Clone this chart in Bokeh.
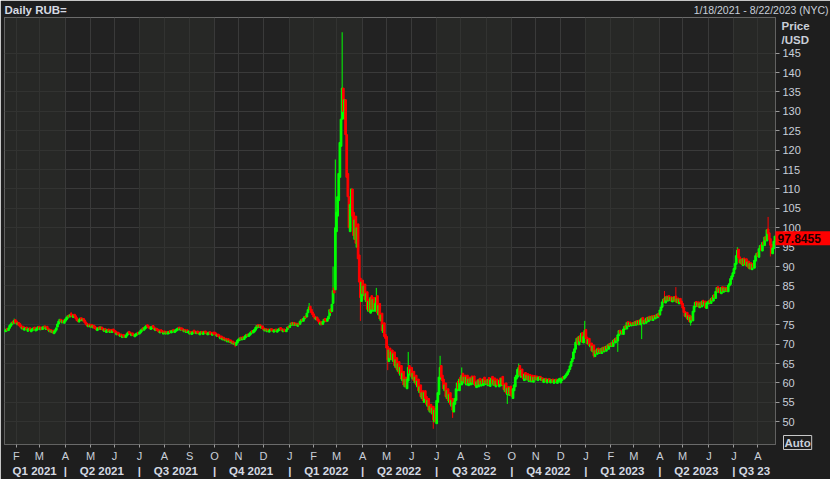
import pandas as pd
from bokeh.plotting import figure
from bokeh.models import (Range1d, LinearAxis, FixedTicker, ColumnDataSource,
                          Label, BoxAnnotation)
from bokeh.embed import file_html
from bokeh.resources import INLINE

# ---------------- data ----------------
START = "2021-01-18"
END = "2023-08-22"
LAST_PRICE_TEXT = "97.8455"
TITLE = "Daily RUB="
DATE_RANGE = "1/18/2021 - 8/22/2023 (NYC)"

# daily opens / closes per month (trading days)
o2021_01 = [73.2, 73.3, 74.1, 73.5, 74.1, 74.6, 75.0, 75.9, 75.4, 76.3]
c2021_01 = [73.7, 73.9, 73.6, 74.1, 74.8, 75.2, 75.6, 75.4, 76.1, 75.6]
o2021_02 = [76.0, 75.0, 75.6, 75.3, 74.9, 73.9, 74.6, 73.6, 73.8, 74.4,
            73.3, 73.6, 74.2, 73.2, 73.5, 73.7, 74.4, 73.4, 73.6, 73.9]
c2021_02 = [75.3, 75.5, 74.9, 74.6, 74.2, 74.4, 73.9, 74.1, 74.3, 73.7,
            73.9, 74.1, 73.5, 73.8, 74.0, 74.2, 73.7, 73.9, 74.2, 74.5]
o2021_03 = [74.6, 73.7, 74.4, 73.8, 74.0, 74.7, 73.8, 74.6, 74.1, 73.2,
            73.8, 73.0, 73.6, 72.7, 73.1, 73.6, 74.4, 75.2, 75.8, 76.4,
            75.5, 76.2, 75.4]
c2021_03 = [74.0, 74.3, 73.8, 74.4, 74.6, 74.1, 74.4, 74.0, 73.5, 73.7,
            73.2, 73.5, 72.9, 73.3, 73.7, 74.2, 75.2, 75.9, 76.4, 75.8,
            76.1, 75.6, 76.0]
o2021_04 = [75.9, 76.3, 76.7, 77.5, 77.0, 77.9, 77.6, 76.9, 77.7, 77.3,
            76.8, 76.4, 75.7, 76.1, 76.8, 76.0, 76.6, 76.2, 75.7, 75.3,
            74.5, 75.2]
c2021_04 = [76.5, 76.9, 77.3, 77.0, 77.6, 77.4, 77.0, 77.5, 77.2, 76.6,
            76.1, 75.8, 76.3, 76.7, 76.2, 76.5, 76.0, 75.5, 75.1, 74.7,
            75.0, 74.6]
o2021_05 = [74.4, 75.1, 74.2, 74.9, 74.6, 74.3, 73.5, 73.8, 74.5, 73.8,
            74.4, 74.1, 73.3, 74.0, 73.0, 73.2, 73.9, 73.0, 73.8, 73.0,
            73.9]
c2021_05 = [74.9, 74.5, 74.8, 74.2, 74.0, 73.7, 74.1, 74.3, 73.9, 74.4,
            73.8, 73.6, 73.9, 73.4, 73.6, 73.8, 73.3, 73.5, 73.2, 73.6,
            73.4]
o2021_06 = [73.6, 73.4, 72.4, 73.1, 72.9, 72.0, 72.6, 71.7, 72.5, 72.3,
            71.7, 72.1, 72.5, 73.3, 73.0, 72.2, 72.9, 72.6, 71.9, 72.2,
            72.4, 73.1]
c2021_06 = [73.1, 72.8, 72.9, 72.5, 72.3, 72.5, 72.0, 72.2, 71.9, 71.8,
            72.3, 72.7, 73.1, 72.8, 72.5, 72.7, 72.3, 72.1, 72.5, 72.7,
            72.9, 72.6]
o2021_07 = [72.6, 72.9, 73.3, 74.2, 73.6, 73.9, 74.2, 75.0, 74.7, 74.5,
            73.8, 74.0, 74.8, 74.4, 73.5, 74.1, 73.9, 73.7, 72.9, 73.7,
            73.5, 72.6]
c2021_07 = [73.1, 73.5, 73.9, 73.7, 74.2, 74.5, 74.8, 74.6, 74.2, 74.0,
            74.4, 74.6, 74.3, 73.8, 74.0, 73.6, 73.4, 73.1, 73.4, 73.2,
            73.0, 73.1]
o2021_08 = [73.4, 72.6, 73.3, 72.6, 72.8, 73.5, 72.9, 73.1, 73.8, 73.0,
            73.3, 73.5, 73.7, 74.4, 73.6, 74.2, 74.0, 73.2, 73.8, 73.0,
            73.7, 72.9]
c2021_08 = [72.9, 73.2, 72.8, 73.1, 73.3, 73.0, 73.4, 73.6, 73.3, 73.5,
            73.8, 74.0, 74.2, 73.9, 74.1, 73.7, 73.5, 73.7, 73.3, 73.5,
            73.2, 73.4]
o2021_09 = [72.6, 73.3, 72.5, 72.8, 73.6, 73.3, 72.7, 73.4, 73.2, 72.4,
            72.7, 73.3, 72.5, 72.8, 73.4, 73.1, 72.4, 72.6, 73.2, 73.0,
            72.3, 73.1]
c2021_09 = [73.1, 72.8, 73.0, 73.3, 73.1, 72.8, 73.2, 72.9, 72.7, 72.9,
            73.2, 72.8, 73.0, 73.3, 72.9, 72.6, 72.9, 73.1, 72.7, 72.5,
            72.8, 72.6]
o2021_10 = [73.1, 72.9, 72.0, 72.6, 72.4, 71.4, 72.1, 71.1, 71.8, 70.9,
            71.5, 70.6, 71.4, 70.5, 71.1, 70.2, 70.8, 69.9, 70.5, 69.7,
            70.3]
c2021_10 = [72.6, 72.3, 72.5, 72.0, 71.8, 71.9, 71.5, 71.6, 71.2, 71.3,
            70.9, 71.1, 70.8, 70.9, 70.5, 70.6, 70.1, 70.3, 69.8, 70.4,
            71.0]
o2021_11 = [70.8, 71.0, 71.8, 71.1, 71.9, 71.2, 71.6, 71.9, 72.6, 72.0,
            72.3, 72.6, 73.5, 72.9, 73.2, 73.6, 74.1, 75.0, 74.3, 75.0,
            74.1, 74.7]
c2021_11 = [71.3, 71.6, 71.2, 71.7, 71.4, 71.8, 72.2, 72.5, 72.1, 72.6,
            72.9, 73.2, 73.0, 73.5, 73.8, 74.3, 74.8, 74.5, 74.9, 74.4,
            74.6, 74.0]
o2021_12 = [74.2, 73.4, 74.0, 73.2, 73.9, 73.1, 73.4, 74.0, 73.8, 73.1,
            73.3, 73.9, 73.1, 73.4, 73.6, 74.3, 74.0, 73.2, 73.9, 73.8,
            73.2, 73.8, 74.6]
c2021_12 = [73.7, 73.9, 73.5, 73.8, 73.4, 73.6, 73.9, 73.5, 73.3, 73.6,
            73.8, 73.4, 73.6, 73.9, 74.1, 73.8, 73.5, 73.7, 73.4, 73.3,
            73.7, 74.4, 74.2]
o2022_01 = [74.3, 74.8, 75.6, 74.9, 75.6, 74.8, 75.4, 74.6, 75.4, 75.1,
            75.7, 76.5, 75.9, 76.5, 77.3, 77.0, 78.1, 78.9, 79.8, 79.0,
            78.3]
c2022_01 = [74.8, 75.4, 75.0, 75.5, 75.0, 75.3, 74.8, 75.2, 75.0, 75.9,
            76.3, 76.0, 76.6, 77.1, 76.8, 78.0, 78.9, 79.6, 78.9, 78.1,
            77.6]
o2022_02 = [77.8, 77.2, 76.3, 77.0, 76.5, 76.0, 75.0, 75.8, 75.1, 75.7,
            76.6, 76.3, 75.9, 76.5, 77.3, 79.1, 78.4, 80.5, 84.5, 84.0]
c2022_02 = [77.0, 76.6, 76.9, 76.2, 75.9, 75.3, 75.6, 75.0, 75.8, 76.4,
            76.1, 75.8, 76.6, 77.2, 78.9, 78.2, 80.3, 83.8, 83.2, 100.0]
o2022_03 = [99.0, 103.0, 107.0, 113.0, 121.0, 128.0, 136.0, 128.0, 133.0, 124.0,
            114.0, 108.0, 99.0, 105.0, 110.0, 104.0, 97.0, 103.0, 95.0, 101.0,
            93.0, 87.0, 81.0]
c2022_03 = [104.0, 108.0, 114.0, 122.0, 128.0, 136.0, 130.0, 133.0, 124.0, 113.0,
            108.0, 100.0, 106.0, 110.0, 103.0, 98.0, 102.0, 96.0, 100.0, 92.0,
            86.0, 82.0, 86.0]
o2022_04 = [86.5, 82.5, 85.5, 81.0, 83.5, 78.5, 81.5, 78.0, 82.5, 78.5,
            82.0, 78.5, 80.0, 82.5, 77.5, 80.5, 76.0, 78.0, 73.0, 75.5,
            72.5]
c2022_04 = [83.0, 85.0, 81.5, 83.0, 79.0, 81.0, 78.5, 82.0, 79.0, 81.5,
            79.0, 80.5, 82.0, 78.0, 80.0, 76.5, 77.5, 73.5, 75.0, 72.0,
            71.5]
o2022_05 = [72.0, 69.5, 65.5, 69.0, 66.0, 68.5, 65.5, 68.0, 64.0, 66.5,
            63.0, 65.5, 62.0, 64.5, 60.5, 63.0, 59.0, 61.5, 58.5, 60.5,
            64.5, 62.0]
c2022_05 = [69.0, 66.0, 68.5, 66.5, 68.0, 66.0, 67.5, 64.5, 66.0, 63.5,
            65.0, 62.5, 64.0, 61.0, 62.5, 59.5, 61.0, 59.0, 61.0, 64.0,
            62.5, 63.5]
o2022_06 = [64.0, 61.0, 63.0, 60.0, 62.0, 59.0, 61.0, 57.5, 59.5, 56.0,
            58.0, 55.0, 58.0, 56.5, 54.0, 56.0, 52.5, 54.5, 52.0, 54.0,
            50.0, 53.5]
c2022_06 = [61.5, 62.5, 60.5, 61.5, 59.5, 60.5, 58.0, 59.0, 56.5, 57.5,
            55.5, 57.5, 56.0, 54.5, 55.5, 53.0, 54.0, 52.5, 53.5, 50.5,
            53.0, 50.0]
o2022_07 = [49.5, 55.0, 57.0, 61.0, 64.5, 62.0, 61.0, 58.0, 60.0, 56.0,
            58.5, 55.0, 57.5, 54.0, 56.0, 52.5, 54.5, 55.5, 58.0, 60.5,
            58.0]
c2022_07 = [55.5, 57.5, 61.5, 64.0, 61.5, 60.5, 58.5, 59.5, 56.5, 58.0,
            55.5, 57.0, 54.5, 55.5, 53.0, 55.0, 56.0, 58.5, 60.0, 58.5,
            61.0]
o2022_08 = [61.5, 59.5, 62.5, 60.0, 62.0, 59.5, 62.0, 59.3, 61.5, 59.5,
            61.8, 59.7, 61.8, 60.2, 58.8, 60.8, 59.0, 61.2, 59.2, 61.0,
            59.3, 61.5, 59.6]
c2022_08 = [60.0, 62.0, 60.5, 61.5, 60.0, 61.5, 59.8, 61.0, 60.0, 61.2,
            60.2, 61.5, 59.8, 59.2, 60.3, 59.5, 60.8, 59.7, 60.5, 59.8,
            61.0, 60.0, 60.6]
o2022_09 = [60.8, 59.3, 61.4, 59.1, 60.2, 61.7, 59.4, 61.3, 59.0, 61.0,
            60.1, 59.0, 61.3, 59.3, 61.7, 59.8, 57.8, 60.0, 57.0, 59.1,
            56.8, 59.2]
c2022_09 = [59.8, 60.9, 59.6, 60.7, 61.2, 59.9, 60.8, 59.4, 60.5, 59.6,
            59.3, 60.7, 59.8, 61.2, 59.5, 58.3, 59.5, 57.4, 58.6, 57.2,
            58.8, 57.0]
o2022_10 = [57.8, 56.0, 58.0, 59.0, 61.0, 61.5, 63.0, 64.5, 61.5, 63.6,
            62.2, 60.6, 62.7, 60.8, 62.4, 60.4, 62.2, 60.3, 62.0, 60.2,
            61.9]
c2022_10 = [56.5, 58.5, 59.5, 61.5, 62.0, 63.5, 64.0, 62.0, 63.2, 61.8,
            61.0, 62.3, 61.2, 62.0, 60.8, 61.8, 60.7, 61.6, 60.6, 61.5,
            60.8]
o2022_11 = [60.8, 61.8, 60.6, 60.9, 61.7, 60.6, 61.3, 60.1, 60.4, 61.2,
            60.0, 60.4, 61.1, 60.0, 60.3, 61.0, 59.9, 60.2, 61.0, 59.9,
            60.4, 60.6]
c2022_11 = [61.6, 60.9, 61.4, 61.6, 61.0, 61.3, 60.5, 60.9, 61.1, 60.4,
            60.8, 61.0, 60.3, 60.7, 60.9, 60.2, 60.6, 60.9, 60.3, 60.7,
            61.0, 61.2]
o2022_12 = [60.0, 60.6, 61.6, 61.0, 61.4, 61.8, 62.2, 62.8, 63.5, 64.3,
            65.4, 66.2, 67.8, 68.7, 70.3, 71.8, 69.8, 72.2, 70.6, 73.0,
            70.3, 71.8]
c2022_12 = [60.8, 61.3, 61.1, 61.7, 62.0, 62.4, 62.9, 63.5, 64.4, 65.5,
            66.3, 68.0, 68.8, 70.5, 71.5, 70.0, 72.0, 70.8, 72.8, 70.5,
            72.0, 73.5]
o2023_01 = [73.8, 71.8, 70.0, 71.5, 69.3, 70.3, 68.0, 69.8, 66.8, 68.5,
            67.4, 69.0, 67.6, 68.8, 67.6, 69.2, 68.0, 69.4, 68.2, 69.7,
            68.7, 70.2]
c2023_01 = [71.5, 70.2, 71.2, 69.6, 70.0, 68.3, 69.5, 67.0, 68.3, 67.6,
            68.8, 67.9, 68.6, 67.8, 69.0, 68.2, 69.2, 68.4, 69.5, 68.9,
            70.0, 69.6]
o2023_02 = [69.4, 70.5, 69.4, 71.2, 70.3, 71.7, 70.8, 72.2, 73.6, 72.6,
            73.5, 72.5, 73.8, 74.8, 73.9, 75.8, 74.6, 75.7, 74.7, 75.5]
c2023_02 = [70.3, 69.6, 71.0, 70.5, 71.5, 71.0, 72.4, 73.5, 72.8, 73.3,
            72.7, 73.9, 74.6, 74.1, 75.6, 74.8, 75.5, 74.9, 75.3, 75.0]
o2023_03 = [74.8, 75.8, 74.9, 76.1, 75.0, 76.2, 75.0, 76.1, 76.9, 75.2,
            76.3, 75.4, 76.9, 75.8, 77.2, 76.2, 77.3, 76.1, 77.4, 76.5,
            77.6, 76.8, 78.0]
c2023_03 = [75.6, 75.0, 75.9, 75.2, 76.0, 75.1, 76.3, 76.7, 75.4, 76.1,
            75.6, 76.7, 76.0, 77.0, 76.4, 77.1, 76.3, 77.2, 76.7, 77.4,
            77.0, 77.8, 77.2]
o2023_04 = [77.5, 78.6, 79.5, 80.8, 81.8, 80.6, 82.4, 81.1, 82.5, 81.2,
            82.2, 80.9, 82.2, 81.1, 82.4, 80.7, 81.9, 80.4, 81.8, 81.1]
c2023_04 = [78.8, 79.6, 80.9, 81.6, 80.8, 82.2, 81.3, 82.3, 81.4, 82.0,
            81.1, 82.0, 81.3, 82.2, 80.9, 81.7, 80.6, 81.6, 80.9, 80.3]
o2023_05 = [80.5, 79.5, 78.4, 77.0, 78.2, 76.3, 77.5, 75.6, 77.2, 76.0,
            78.3, 79.6, 81.0, 79.7, 80.9, 79.4, 80.8, 79.6, 81.3, 80.0,
            81.1, 79.2, 80.4]
c2023_05 = [79.3, 78.2, 77.2, 78.0, 76.5, 77.3, 75.8, 77.0, 76.2, 78.5,
            79.8, 80.8, 79.9, 80.7, 79.6, 80.6, 79.8, 81.1, 80.2, 80.9,
            79.4, 80.6, 80.9]
o2023_06 = [80.4, 81.4, 80.5, 82.0, 81.1, 82.8, 81.8, 83.4, 84.8, 83.3,
            84.5, 83.0, 84.8, 83.4, 84.7, 83.6, 84.6, 83.5, 85.0, 85.4,
            86.7, 87.4]
c2023_06 = [81.2, 80.7, 81.8, 81.3, 82.6, 82.0, 83.6, 84.6, 83.5, 84.3,
            83.2, 84.6, 83.6, 84.5, 83.8, 84.4, 83.7, 85.2, 85.6, 86.9,
            87.6, 88.4]
o2023_07 = [88.2, 89.3, 90.6, 92.6, 94.5, 92.5, 90.8, 92.0, 90.3, 92.2,
            90.4, 92.0, 90.0, 91.4, 89.4, 91.0, 89.2, 90.8, 89.6, 91.4,
            92.6]
c2023_07 = [89.5, 90.8, 92.8, 94.2, 92.3, 91.0, 91.8, 90.5, 92.0, 90.6,
            91.8, 90.2, 91.2, 89.6, 90.8, 89.4, 90.6, 89.8, 91.6, 92.8,
            93.4]
o2023_08 = [93.6, 92.4, 94.4, 95.6, 94.0, 96.4, 95.4, 97.8, 96.6, 99.7,
            98.7, 97.2, 95.7, 93.3, 94.6, 96.3]
c2023_08 = [92.6, 94.6, 95.4, 94.2, 96.2, 95.6, 97.6, 96.8, 99.5, 98.5,
            97.0, 95.5, 93.5, 94.8, 96.5, 97.8455]

# visible wick extremes
wick_highs = {"2021-01-28": 76.6, "2021-04-08": 78.3, "2022-01-26": 80.6,
              "2022-02-24": 90.0, "2022-02-28": 117.6, "2022-03-08": 150.4,
              "2022-04-19": 84.5, "2022-05-27": 68.0, "2022-07-06": 67.0,
              "2022-08-02": 64.0, "2022-10-11": 65.0, "2022-12-30": 76.0,
              "2023-04-07": 83.7, "2023-04-21": 84.7, "2023-07-06": 95.0,
              "2023-08-14": 102.8}
wick_lows = {"2021-10-27": 69.2, "2022-03-30": 76.0, "2022-05-03": 63.3,
             "2022-06-28": 48.2, "2022-07-21": 51.0, "2022-09-27": 54.6,
             "2023-01-11": 66.5, "2023-02-09": 68.0, "2023-03-10": 71.3,
             "2023-05-10": 74.8, "2023-08-16": 92.6}

Y_TICKS = list(range(50, 150, 5))
MONTH_LETTERS = "JFMAMJJASOND"
LAST_QUARTER_LABEL = "Q3 23"

# ---------------- assemble ----------------
months = ["2021_01", "2021_02", "2021_03", "2021_04", "2021_05", "2021_06",
          "2021_07", "2021_08", "2021_09", "2021_10", "2021_11", "2021_12",
          "2022_01", "2022_02", "2022_03", "2022_04", "2022_05", "2022_06",
          "2022_07", "2022_08", "2022_09", "2022_10", "2022_11", "2022_12",
          "2023_01", "2023_02", "2023_03", "2023_04", "2023_05", "2023_06",
          "2023_07", "2023_08"]
g = globals()
opens, closes = [], []
for m in months:
    assert len(g["o" + m]) == len(g["c" + m]), m
    opens += g["o" + m]
    closes += g["c" + m]
dates = pd.bdate_range(START, END)
assert len(dates) == len(closes), (len(dates), len(closes))
n = len(closes)
idx = list(range(n))
ds = [d.strftime("%Y-%m-%d") for d in dates]
highs = [max(o, c, wick_highs.get(d, 0)) for o, c, d in zip(opens, closes, ds)]
lows = [min(o, c, wick_lows.get(d, 1e9)) for o, c, d in zip(opens, closes, ds)]
UP, DOWN = "#00ff00", "#ff0000"
colors = [UP if c >= o else DOWN for o, c in zip(opens, closes)]
src = ColumnDataSource(dict(x=idx, open=opens, close=closes, high=highs, low=lows,
                            top=[max(o, c) for o, c in zip(opens, closes)],
                            bottom=[min(o, c) for o, c in zip(opens, closes)],
                            color=colors))

# month and quarter positions from the trading calendar
month_first = []
prev = None
for i, d in enumerate(dates):
    key = (d.year, d.month)
    if key != prev:
        if i > 0:
            month_first.append((i, d))
        prev = key
month_ticks = [i for i, _ in month_first]
month_labels = {i: MONTH_LETTERS[d.month - 1] for i, d in month_first}

q_starts = [0]
q_names = []
prevq = None
for i, d in enumerate(dates):
    q = (d.year, (d.month - 1) // 3 + 1)
    if q != prevq:
        if i > 0:
            q_starts.append(i)
        q_names.append(f"Q{q[1]} {q[0]}")
        prevq = q
q_names[-1] = LAST_QUARTER_LABEL
q_ends = q_starts[1:] + [n]
q_centers = [int(round((s + e - 1) / 2)) for s, e in zip(q_starts, q_ends)]
q_ticks = q_centers + q_starts[1:]
q_labels = {c: nm for c, nm in zip(q_centers, q_names)}
q_labels.update({s: "|" for s in q_starts[1:]})

# ---------------- main chart ----------------
W, H = 830, 479
TOP_B, BOT_B, LEFT_B, RIGHT_B = 17, 31, 4, 55
PX_PER_UNIT = 3.916
Y_TOP = 154.2
frame_h = H - TOP_B - BOT_B
y_bottom = Y_TOP - frame_h / PX_PER_UNIT

BG = "#1e1e1e"
PLOT_BG = "#222222"
GRID = "#3a3a3a"
TXT = "#c9cfd9"
FONT = "Liberation Sans"
ABS = {"position": "absolute", "left": "0px", "top": "0px"}

chart = figure(width=W, height=H, x_range=Range1d(-0.5, n - 0.5),
               y_range=Range1d(y_bottom, Y_TOP), y_axis_location="right",
               output_backend="svg", toolbar_location=None,
               min_border_left=LEFT_B, min_border_right=RIGHT_B,
               min_border_top=TOP_B, min_border_bottom=BOT_B)
chart.styles = ABS
chart.background_fill_color = PLOT_BG
chart.border_fill_color = BG
chart.outline_line_color = "#6b6b6b"
chart.outline_line_width = 1

chart.title.text = TITLE
chart.title.align = "left"
chart.title.offset = 0
chart.title.standoff = 3
chart.title.text_font = FONT
chart.title.text_font_style = "bold"
chart.title.text_font_size = "11.5px"
chart.title.text_color = "#d6dae2"

# quarter shading (Q1 / Q3 lighter)
for s, e, nm in zip(q_starts, q_ends, q_names):
    if nm.startswith("Q1") or nm.startswith("Q3"):
        chart.add_layout(BoxAnnotation(left=s - 0.5, right=e - 0.5, fill_color="#2b2d2a",
                                       fill_alpha=0.55, line_color=None, level="underlay"))

ya = chart.yaxis[0]
ya.ticker = FixedTicker(ticks=Y_TICKS)
ya.axis_line_color = None
ya.major_tick_out = 4
ya.major_tick_in = 0
ya.minor_tick_line_color = None
ya.major_tick_line_color = "#9a9a9a"
ya.major_label_standoff = 3
ya.major_label_text_color = TXT
ya.major_label_text_font = FONT
ya.major_label_text_font_size = "11px"

xa = chart.xaxis[0]
xa.ticker = FixedTicker(ticks=month_ticks)
xa.major_label_overrides = month_labels
xa.axis_line_color = None
xa.major_tick_out = 3
xa.major_tick_in = 0
xa.minor_tick_line_color = None
xa.major_tick_line_color = "#9a9a9a"
xa.major_label_standoff = 2
xa.major_label_text_color = TXT
xa.major_label_text_font = FONT
xa.major_label_text_font_size = "11px"

qa = LinearAxis(ticker=FixedTicker(ticks=q_ticks), major_label_overrides=q_labels)
qa.axis_line_color = None
qa.major_tick_line_color = None
qa.minor_tick_line_color = None
qa.major_tick_out = 0
qa.major_tick_in = 0
qa.major_label_standoff = 0
qa.major_label_text_color = "#d4d9e2"
qa.major_label_text_font = FONT
qa.major_label_text_font_style = "bold"
qa.major_label_text_font_size = "11.5px"
chart.add_layout(qa, "below")

chart.xgrid.ticker = FixedTicker(ticks=month_ticks)
chart.xgrid.grid_line_color = GRID
chart.ygrid.ticker = FixedTicker(ticks=Y_TICKS)
chart.ygrid.grid_line_color = GRID

chart.segment(x0="x", y0="low", x1="x", y1="high", color="color", line_width=1, source=src)
chart.vbar(x="x", width=1.5, top="top", bottom="bottom", fill_color="color",
           line_color="color", line_width=1, source=src)

# ---------------- overlay (separate root) for texts in the margins ----------------
# frame = whole canvas; x in pixels, y in price units aligned with the chart's scale
overlay = figure(width=W, height=H, x_range=Range1d(0, W),
                 y_range=Range1d(y_bottom - BOT_B / PX_PER_UNIT, Y_TOP + TOP_B / PX_PER_UNIT),
                 x_axis_location=None, y_axis_location=None,
                 output_backend="svg", toolbar_location=None,
                 min_border=0, min_border_left=0, min_border_right=0,
                 min_border_top=0, min_border_bottom=0)
overlay.title = None
overlay.styles = dict(ABS, **{"pointer-events": "none"})
overlay.background_fill_alpha = 0
overlay.border_fill_alpha = 0
overlay.outline_line_color = None
overlay.xgrid.grid_line_color = None
overlay.ygrid.grid_line_color = None
overlay.grid.visible = False


def margin_label(cx, cy, text, **kw):
    overlay.add_layout(Label(x=cx, y=H - cy, x_units="data", y_units="screen",
                             text=text, text_font=FONT, text_baseline="middle", **kw))


margin_label(828, 9, DATE_RANGE, text_font_size="10.5px", text_color=TXT, text_align="right")
margin_label(781, 25, "Price", text_font_style="bold", text_font_size="11.5px",
             text_color=TXT, text_align="left")
margin_label(781, 39, "/USD", text_font_style="bold", text_font_size="11.5px",
             text_color=TXT, text_align="left")
margin_label(783, 442, "Auto", text_font_style="bold", text_font_size="11.5px",
             text_color=TXT, text_align="left", border_line_color="#c8c8c8",
             border_line_width=1, padding=1)

last = closes[-1]
tag_half = 7 / PX_PER_UNIT
overlay.quad(left=[W - RIGHT_B], right=[W], bottom=[last - tag_half], top=[last + tag_half],
             fill_color="#ff0000", line_color=None)
overlay.add_layout(Label(x=W - RIGHT_B + 2, y=last, x_units="data", y_units="data",
                         text=LAST_PRICE_TEXT, text_font=FONT, text_font_style="bold",
                         text_font_size="12px", text_color="#1a0000",
                         text_baseline="middle", text_align="left"))

p = [chart, overlay]

open("out.html", "w").write(file_html(p, INLINE))
